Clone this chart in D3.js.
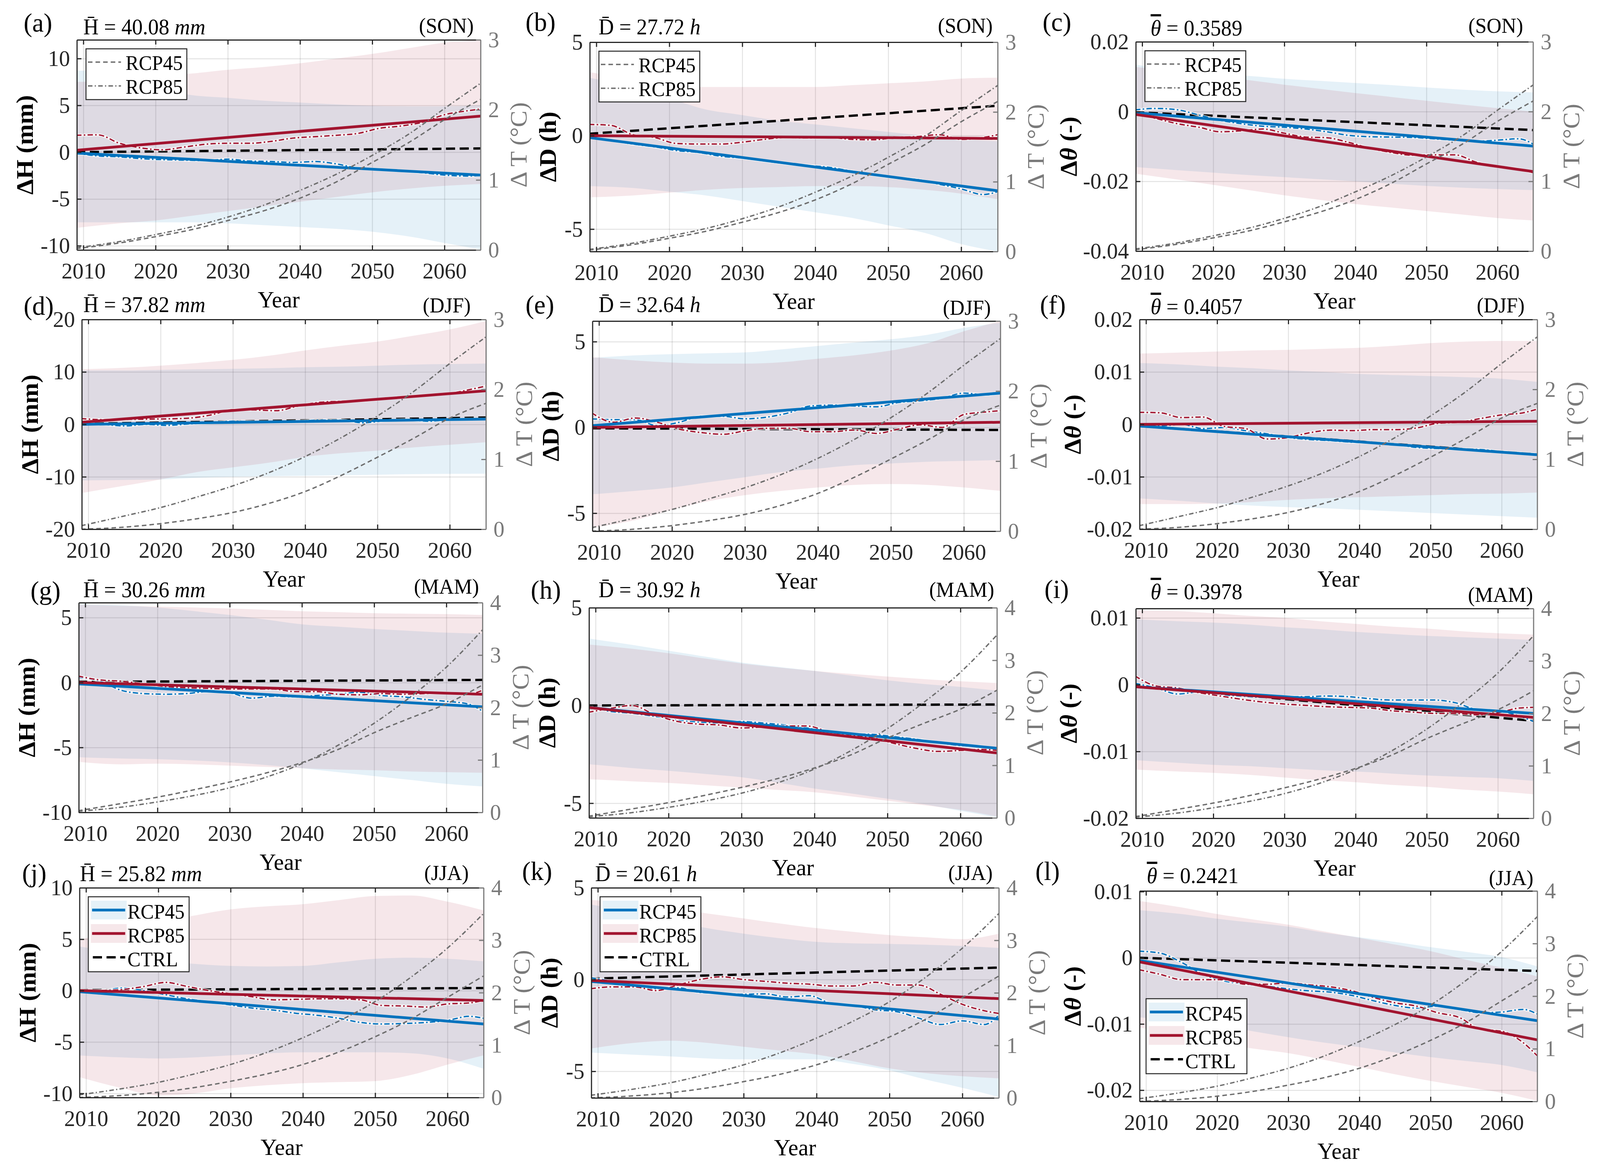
<!DOCTYPE html>
<html>
<head>
<meta charset="utf-8">
<script src="https://cdn.jsdelivr.net/npm/d3@7"></script>
<style>
  html, body { margin: 0; padding: 0; background: #fff; overflow: hidden; }
  #fig { display: block; width: 100vw; height: 100vh; }
  text { font-family: "Liberation Serif", "Times New Roman", serif; }
</style>
</head>
<body>
<svg id="fig" viewBox="0 0 4205 2993" preserveAspectRatio="none"></svg>
<script>
// ---- shared x grids ----
const YEARS = [2009, 2015, 2020, 2025, 2030, 2035, 2040, 2045, 2050, 2055, 2060, 2065];
const W_YEARS = [2009, 2012, 2015, 2018, 2021, 2024, 2027, 2030, 2033, 2036, 2039, 2042, 2045, 2048, 2051, 2054, 2057, 2060, 2063, 2065];
const TREND_YEARS = [2009, 2065];
const X_TICKS = [2010, 2020, 2030, 2040, 2050, 2060];

// ---- seasons, means, temperature change (right axis) ----
const SEASONS = ["SON", "DJF", "MAM", "JJA"];
const MEAN_H = ["40.08", "37.82", "30.26", "25.82"];
const MEAN_D = ["27.72", "32.64", "30.92", "20.61"];
const MEAN_THETA = ["0.3589", "0.4057", "0.3978", "0.2421"];
const TEMP_MAX = [3, 3, 4, 4];
const TEMP_TICKS = [[0, 1, 2, 3], [0, 1, 2, 3], [0, 1, 2, 3, 4], [0, 1, 2, 3, 4]];
const t45_SON = [0.02, 0.1, 0.19, 0.29, 0.42, 0.56, 0.74, 0.97, 1.25, 1.53, 1.86, 2.15];
const t85_SON = [0.03, 0.12, 0.22, 0.33, 0.47, 0.64, 0.85, 1.08, 1.35, 1.65, 2.02, 2.38];
const t45_DJF = [0.0, 0.03, 0.08, 0.15, 0.24, 0.37, 0.54, 0.77, 1.03, 1.3, 1.59, 1.8];
const t85_DJF = [0.05, 0.19, 0.31, 0.46, 0.62, 0.81, 1.04, 1.31, 1.62, 1.97, 2.37, 2.75];
const t45_MAM = [0.03, 0.17, 0.29, 0.43, 0.58, 0.75, 0.95, 1.2, 1.52, 1.8, 2.07, 2.43];
const t85_MAM = [0.02, 0.1, 0.2, 0.32, 0.47, 0.67, 0.93, 1.28, 1.7, 2.2, 2.77, 3.48];
const t45_JJA = [0.0, 0.04, 0.1, 0.19, 0.31, 0.45, 0.63, 0.87, 1.16, 1.5, 1.91, 2.32];
const t85_JJA = [0.05, 0.17, 0.29, 0.45, 0.63, 0.86, 1.14, 1.46, 1.83, 2.3, 2.85, 3.51];

// ---- (a) SON dH ----
const yDom_a = [-10.45, 12], yTicks_a = [-10, -5, 0, 5, 10];
const lo45_a = [-7.5, -7.5, -7.5, -7.5, -7.6, -7.8, -8.0, -8.2, -8.5, -9.0, -9.7, -10.4];
const hi45_a = [8.7, 8.7, 6.9, 6.1, 5.8, 5.5, 5.3, 5.1, 4.95, 4.9, 4.9, 5.0];
const lo85_a = [-8.1, -7.6, -7.3, -6.8, -6.3, -5.8, -5.3, -4.8, -4.3, -3.9, -3.6, -3.4];
const hi85_a = [7.5, 7.7, 8.1, 8.4, 8.8, 9.1, 9.5, 10.0, 10.5, 11.1, 11.7, 12.0];
const wig45_a = [-0.1, -0.4, -0.5, -0.7, -0.8, -0.85, -0.9, -0.75, -0.95, -1.0, -1.1, -1.0, -1.25, -1.7, -1.85, -2.0, -2.2, -2.45, -2.55, -2.5];
const wig85_a = [1.8, 1.85, 0.95, 0.45, 0.25, 0.55, 0.85, 0.95, 0.95, 1.15, 1.5, 1.65, 1.8, 2.0, 2.55, 2.8, 3.2, 4.0, 4.4, 4.6];
const trend45_a = [-0.1, -2.45], trend85_a = [0.2, 3.85], ctrl_a = [0.0, 0.4];

// ---- (b) SON dD ----
const yDom_b = [-6.2, 5], yTicks_b = [-5, 0, 5];
const lo45_b = [-2.7, -2.8, -3.0, -3.2, -3.5, -3.8, -4.1, -4.4, -4.8, -5.2, -5.8, -6.2];
const hi45_b = [3.1, 2.6, 2.0, 1.4, 1.1, 0.8, 0.6, 0.4, 0.2, 0.0, -0.2, -0.3];
const lo85_b = [-3.3, -3.2, -3.05, -2.9, -2.8, -2.75, -2.7, -2.7, -2.75, -2.9, -3.1, -3.4];
const hi85_b = [3.4, 3.0, 2.65, 2.6, 2.6, 2.6, 2.6, 2.7, 2.8, 2.9, 3.05, 3.1];
const wig45_b = [-0.1, -0.25, -0.45, -0.6, -0.8, -0.9, -1.1, -1.2, -1.35, -1.5, -1.6, -1.7, -1.9, -2.1, -2.25, -2.35, -2.6, -2.85, -3.15, -3.0];
const wig85_b = [0.6, 0.55, 0.05, -0.1, -0.42, -0.45, -0.45, -0.35, -0.2, -0.1, -0.12, -0.1, -0.2, -0.22, -0.1, -0.05, 0.05, -0.2, -0.1, 0.05];
const trend45_b = [-0.1, -2.95], trend85_b = [0.0, -0.15], ctrl_b = [0.1, 1.6];

// ---- (c) SON dTheta ----
const yDom_c = [-0.04, 0.02], yTicks_c = [-0.04, -0.02, 0, 0.02];
const lo45_c = [-0.0159, -0.0168, -0.0175, -0.0182, -0.0188, -0.0194, -0.02, -0.0207, -0.0213, -0.0218, -0.0222, -0.0225];
const hi45_c = [0.0135, 0.0115, 0.0105, 0.0102, 0.0094, 0.0088, 0.0082, 0.0076, 0.0069, 0.0063, 0.0058, 0.0055];
const lo85_c = [-0.0178, -0.0195, -0.021, -0.0225, -0.024, -0.0253, -0.0265, -0.0275, -0.0285, -0.0295, -0.0305, -0.0312];
const hi85_c = [0.0128, 0.0115, 0.0102, 0.009, 0.0077, 0.0065, 0.0053, 0.0042, 0.0031, 0.002, 0.001, 0.0];
const wig45_c = [0.0005, 0.0009, 0.0005, -0.001, -0.0025, -0.0035, -0.0042, -0.0045, -0.005, -0.0058, -0.0068, -0.0072, -0.0073, -0.0074, -0.0078, -0.0082, -0.0085, -0.0082, -0.0078, -0.0093];
const wig85_c = [-0.0005, -0.002, -0.0035, -0.0045, -0.0058, -0.0055, -0.005, -0.0062, -0.0073, -0.0075, -0.0088, -0.0105, -0.0117, -0.0125, -0.0124, -0.0124, -0.0145, -0.0158, -0.0165, -0.0175];
const trend45_c = [-0.0003, -0.0099], trend85_c = [-0.0008, -0.0172], ctrl_c = [-0.0002, -0.0053];

// ---- (d) DJF dH ----
const yDom_d = [-20, 20], yTicks_d = [-20, -10, 0, 10, 20];
const lo45_d = [-10.7, -10.6, -10.5, -10.2, -10.0, -9.9, -9.8, -9.7, -9.6, -9.5, -9.45, -9.4];
const hi45_d = [10.3, 10.3, 10.4, 10.5, 10.6, 10.7, 10.9, 11.0, 11.2, 11.4, 11.5, 11.6];
const lo85_d = [-13.1, -11.7, -10.5, -9.1, -8.2, -7.3, -6.2, -5.5, -5.0, -4.4, -3.9, -3.4];
const hi85_d = [10.5, 10.8, 11.2, 11.7, 12.3, 13.1, 14.1, 15.0, 15.8, 16.9, 18.1, 19.7];
const wig45_d = [0.1, 0.0, -0.3, 0.0, -0.2, 0.1, 0.3, 0.6, 0.5, 0.5, 0.6, 0.8, 0.8, 0.3, 0.7, 0.9, 0.6, 0.9, 1.0, 1.0];
const wig85_d = [1.1, 0.9, 0.95, 1.0, 1.05, 1.2, 1.8, 2.8, 2.75, 2.6, 3.5, 4.2, 4.4, 4.5, 4.9, 5.3, 5.6, 5.9, 6.7, 7.3];
const trend45_d = [0.0, 1.0], trend85_d = [0.4, 6.4], ctrl_d = [0.1, 1.3];

// ---- (e) DJF dD ----
const yDom_e = [-6.05, 6.2], yTicks_e = [-5, 0, 5];
const lo45_e = [-3.9, -3.7, -3.5, -3.2, -2.9, -2.6, -2.4, -2.2, -2.1, -2.0, -1.95, -1.9];
const hi45_e = [4.05, 4.2, 4.27, 4.32, 4.37, 4.55, 4.75, 4.95, 5.14, 5.4, 5.8, 6.1];
const lo85_e = [-5.85, -5.4, -4.8, -4.3, -3.95, -3.7, -3.5, -3.35, -3.3, -3.35, -3.5, -3.7];
const hi85_e = [4.1, 3.9, 3.78, 3.72, 3.72, 3.8, 4.0, 4.2, 4.48, 4.9, 5.6, 6.2];
const wig45_e = [0.5, 0.45, 0.45, 0.1, 0.3, 0.65, 0.65, 0.5, 0.6, 0.85, 1.25, 1.3, 1.25, 1.2, 1.45, 1.55, 1.7, 2.0, 1.9, 2.0];
const wig85_e = [0.85, 0.3, 0.55, 0.3, -0.1, -0.3, -0.4, -0.2, -0.05, -0.05, -0.25, -0.25, -0.15, -0.35, -0.1, 0.15, 0.0, 0.75, 0.9, 0.98];
const trend45_e = [0.1, 2.0], trend85_e = [0.0, 0.3], ctrl_e = [-0.05, -0.15];

// ---- (f) DJF dTheta ----
const yDom_f = [-0.02, 0.02], yTicks_f = [-0.02, -0.01, 0, 0.01, 0.02];
const lo45_f = [-0.0141, -0.0146, -0.0151, -0.0155, -0.0158, -0.016, -0.0163, -0.0166, -0.0169, -0.0172, -0.0175, -0.0178];
const hi45_f = [0.0117, 0.0114, 0.011, 0.0107, 0.0103, 0.01, 0.0096, 0.0094, 0.0092, 0.009, 0.0087, 0.0081];
const lo85_f = [-0.0152, -0.0152, -0.0151, -0.0148, -0.0144, -0.0141, -0.0139, -0.0137, -0.0135, -0.0133, -0.0132, -0.013];
const hi85_f = [0.0135, 0.0137, 0.0139, 0.0141, 0.0142, 0.0144, 0.0146, 0.015, 0.0155, 0.0158, 0.0159, 0.0159];
const wig45_f = [-0.0003, -0.0003, 0.0, -0.0008, -0.0006, -0.0012, -0.0018, -0.0025, -0.0029, -0.0031, -0.0034, -0.0035, -0.0038, -0.0044, -0.0046, -0.0047, -0.0048, -0.0052, -0.0055, -0.0057];
const wig85_f = [0.0023, 0.0022, 0.0013, 0.0014, -0.0004, -0.0008, -0.0028, -0.0025, -0.0016, -0.0011, -0.0012, -0.001, -0.001, -0.0007, 0.0002, 0.0004, 0.0011, 0.0018, 0.0022, 0.0029];
const trend45_f = [-0.0003, -0.0058], trend85_f = [0.0, 0.0006], ctrl_f = [-0.0003, -0.0057];

// ---- (g) MAM dH ----
const yDom_g = [-10, 6.15], yTicks_g = [-10, -5, 0, 5];
const lo45_g = [-5.75, -5.85, -5.9, -6.0, -6.15, -6.35, -6.6, -6.9, -7.2, -7.5, -7.8, -8.0];
const hi45_g = [6.06, 5.95, 5.78, 5.5, 5.2, 4.85, 4.48, 4.3, 4.12, 3.98, 3.84, 3.76];
const lo85_g = [-6.1, -6.3, -6.25, -6.3, -6.4, -6.5, -6.6, -6.7, -6.75, -6.85, -6.9, -6.95];
const hi85_g = [6.0, 5.9, 5.85, 5.78, 5.7, 5.6, 5.49, 5.42, 5.34, 5.3, 5.27, 5.2];
const wig45_g = [0.4, 0.1, -0.6, -0.85, -0.9, -0.85, -0.7, -0.8, -1.2, -1.05, -1.1, -1.0, -0.9, -0.75, -1.0, -1.1, -1.3, -1.45, -1.65, -2.2];
const wig85_g = [0.5, 0.2, 0.1, -0.1, -0.3, -0.4, -0.45, -0.5, -0.5, -0.5, -0.7, -0.7, -0.9, -0.95, -0.85, -0.9, -0.85, -0.8, -0.9, -0.6];
const trend45_g = [-0.1, -1.87], trend85_g = [0.0, -0.9], ctrl_g = [0.05, 0.2];

// ---- (h) MAM dD ----
const yDom_h = [-5.75, 5], yTicks_h = [-5, 0, 5];
const lo45_h = [-3.0, -3.2, -3.34, -3.5, -3.67, -3.95, -4.25, -4.5, -4.77, -5.05, -5.39, -5.73];
const hi45_h = [3.43, 3.1, 2.8, 2.5, 2.2, 1.98, 1.77, 1.53, 1.29, 1.1, 0.95, 0.76];
const lo85_h = [-3.77, -3.88, -3.96, -4.08, -4.2, -4.32, -4.44, -4.65, -4.87, -5.1, -5.34, -5.68];
const hi85_h = [3.12, 2.9, 2.67, 2.4, 2.15, 1.95, 1.77, 1.62, 1.48, 1.35, 1.24, 1.15];
const wig45_h = [-0.05, -0.3, -0.4, -0.55, -0.75, -0.85, -0.9, -0.82, -0.9, -1.0, -1.15, -1.38, -1.45, -1.48, -1.6, -1.73, -1.9, -2.05, -2.1, -2.24];
const wig85_h = [-0.35, -0.15, 0.0, -0.45, -0.8, -0.95, -1.0, -1.15, -1.1, -1.05, -1.05, -1.35, -1.5, -1.65, -1.95, -2.2, -2.35, -2.3, -2.25, -2.3];
const trend45_h = [-0.1, -2.19], trend85_h = [-0.1, -2.43], ctrl_h = [0.0, 0.05];

// ---- (i) MAM dTheta ----
const yDom_i = [-0.02, 0.0114], yTicks_i = [-0.02, -0.01, 0, 0.01];
const lo45_i = [-0.0113, -0.0117, -0.012, -0.0122, -0.0125, -0.0128, -0.013, -0.0133, -0.0136, -0.0138, -0.014, -0.0144];
const hi45_i = [0.0098, 0.0095, 0.0093, 0.009, 0.0086, 0.0083, 0.0079, 0.0076, 0.0073, 0.0071, 0.0069, 0.0067];
const lo85_i = [-0.0127, -0.013, -0.0132, -0.0135, -0.0139, -0.0143, -0.0146, -0.015, -0.0153, -0.0157, -0.016, -0.0164];
const hi85_i = [0.0112, 0.011, 0.0107, 0.0103, 0.01, 0.0095, 0.0091, 0.0087, 0.0084, 0.008, 0.0077, 0.0075];
const wig45_i = [0.0002, -0.0005, -0.0014, -0.0011, -0.0015, -0.0017, -0.0019, -0.0018, -0.0018, -0.0017, -0.0018, -0.0021, -0.0023, -0.0023, -0.0023, -0.0027, -0.0037, -0.0039, -0.0047, -0.0055];
const wig85_i = [0.0013, -0.0002, -0.0005, -0.0012, -0.0017, -0.0022, -0.0026, -0.0029, -0.0031, -0.0033, -0.0034, -0.0035, -0.0039, -0.0041, -0.0043, -0.0043, -0.0045, -0.0042, -0.0035, -0.0034];
const trend45_i = [-0.0003, -0.0043], trend85_i = [-0.0003, -0.0049], ctrl_i = [-0.0002, -0.0054];

// ---- (j) JJA dH ----
const yDom_j = [-10.4, 10], yTicks_j = [-10, -5, 0, 5, 10];
const lo45_j = [-6.3, -6.5, -6.6, -6.5, -6.3, -6.1, -6.0, -6.0, -6.0, -6.1, -6.6, -7.6];
const hi45_j = [4.3, 3.6, 2.9, 2.6, 2.4, 2.35, 2.4, 2.75, 3.1, 3.2, 3.1, 2.85];
const lo85_j = [-8.4, -9.5, -10.2, -10.0, -9.5, -9.2, -9.0, -8.9, -8.8, -8.2, -7.2, -6.3];
const hi85_j = [4.9, 6.0, 6.6, 7.3, 7.9, 8.2, 8.4, 8.8, 9.2, 9.25, 8.65, 7.8];
const wig45_j = [0.05, 0.0, 0.25, 0.0, -0.4, -0.8, -1.1, -1.4, -1.7, -1.9, -2.2, -2.4, -2.7, -3.1, -3.25, -3.2, -3.1, -2.9, -2.5, -2.7];
const wig85_j = [-0.1, 0.0, 0.1, 0.4, 0.8, 0.4, 0.0, -0.3, -0.6, -0.9, -0.85, -0.8, -0.8, -0.9, -1.45, -1.5, -1.6, -1.3, -1.2, -0.95];
const trend45_j = [-0.1, -3.25], trend85_j = [0.0, -0.96], ctrl_j = [0.05, 0.25];

// ---- (k) JJA dD ----
const yDom_k = [-6.45, 5], yTicks_k = [-5, 0, 5];
const lo45_k = [-3.98, -4.1, -4.19, -4.3, -4.35, -4.35, -4.35, -4.6, -4.95, -5.45, -5.9, -6.4];
const hi45_k = [4.1, 3.6, 3.2, 2.8, 2.5, 2.25, 2.05, 1.97, 1.94, 1.9, 1.83, 1.72];
const lo85_k = [-3.76, -3.45, -3.33, -3.45, -3.66, -3.87, -4.09, -4.45, -4.84, -5.1, -5.27, -5.38];
const hi85_k = [4.35, 4.1, 3.87, 3.6, 3.33, 3.05, 2.8, 2.6, 2.42, 2.3, 2.2, 2.5];
const wig45_k = [0.1, -0.1, -0.3, -0.5, -0.45, -0.7, -0.75, -0.8, -0.78, -0.95, -0.88, -1.3, -1.4, -1.65, -1.75, -2.1, -2.45, -2.25, -2.45, -1.95];
const wig85_k = [-0.5, -0.4, -0.4, -0.6, -0.3, 0.0, 0.15, 0.0, -0.1, -0.2, -0.25, -0.35, -0.35, -0.15, -0.3, -0.3, -0.8, -1.35, -1.7, -1.85];
const trend45_k = [-0.1, -2.15], trend85_k = [-0.05, -1.04], ctrl_k = [0.05, 0.65];

// ---- (l) JJA dTheta ----
const yDom_l = [-0.0217, 0.0101], yTicks_l = [-0.02, -0.01, 0, 0.01];
const lo45_l = [-0.009, -0.0096, -0.0102, -0.0111, -0.012, -0.0128, -0.0135, -0.0143, -0.015, -0.0156, -0.0162, -0.0173];
const hi45_l = [0.0072, 0.0066, 0.0059, 0.0053, 0.0047, 0.0038, 0.0031, 0.0024, 0.0016, 0.0009, 0.0001, -0.0013];
const lo85_l = [-0.0105, -0.0118, -0.0129, -0.0137, -0.0144, -0.0154, -0.0165, -0.0176, -0.0186, -0.0195, -0.0204, -0.0216];
const hi85_l = [0.0086, 0.0076, 0.0066, 0.0058, 0.005, 0.004, 0.003, 0.002, 0.001, -0.0003, -0.0015, -0.0028];
const wig45_l = [0.001, 0.0007, -0.0007, -0.0025, -0.0035, -0.004, -0.0043, -0.0047, -0.005, -0.0052, -0.0057, -0.0065, -0.0072, -0.0076, -0.0073, -0.0078, -0.0083, -0.0082, -0.0078, -0.0085];
const wig85_l = [-0.0018, -0.0025, -0.0033, -0.0033, -0.0033, -0.004, -0.004, -0.0038, -0.0041, -0.0044, -0.005, -0.006, -0.0068, -0.0073, -0.0083, -0.009, -0.0108, -0.0111, -0.0128, -0.0148];
const trend45_l = [-0.0004, -0.0095], trend85_l = [-0.0006, -0.0124], ctrl_l = [0.0, -0.002];

// ---- tables built from the arrays above ----
const TEMP45 = [t45_SON, t45_DJF, t45_MAM, t45_JJA];
const TEMP85 = [t85_SON, t85_DJF, t85_MAM, t85_JJA];
const PANELS = [
  {id: "a", yDom: yDom_a, yTicks: yTicks_a, lo45: lo45_a, hi45: hi45_a, lo85: lo85_a, hi85: hi85_a, w45: wig45_a, w85: wig85_a, tr45: trend45_a, tr85: trend85_a, ctrl: ctrl_a},
  {id: "b", yDom: yDom_b, yTicks: yTicks_b, lo45: lo45_b, hi45: hi45_b, lo85: lo85_b, hi85: hi85_b, w45: wig45_b, w85: wig85_b, tr45: trend45_b, tr85: trend85_b, ctrl: ctrl_b},
  {id: "c", yDom: yDom_c, yTicks: yTicks_c, lo45: lo45_c, hi45: hi45_c, lo85: lo85_c, hi85: hi85_c, w45: wig45_c, w85: wig85_c, tr45: trend45_c, tr85: trend85_c, ctrl: ctrl_c},
  {id: "d", yDom: yDom_d, yTicks: yTicks_d, lo45: lo45_d, hi45: hi45_d, lo85: lo85_d, hi85: hi85_d, w45: wig45_d, w85: wig85_d, tr45: trend45_d, tr85: trend85_d, ctrl: ctrl_d},
  {id: "e", yDom: yDom_e, yTicks: yTicks_e, lo45: lo45_e, hi45: hi45_e, lo85: lo85_e, hi85: hi85_e, w45: wig45_e, w85: wig85_e, tr45: trend45_e, tr85: trend85_e, ctrl: ctrl_e},
  {id: "f", yDom: yDom_f, yTicks: yTicks_f, lo45: lo45_f, hi45: hi45_f, lo85: lo85_f, hi85: hi85_f, w45: wig45_f, w85: wig85_f, tr45: trend45_f, tr85: trend85_f, ctrl: ctrl_f},
  {id: "g", yDom: yDom_g, yTicks: yTicks_g, lo45: lo45_g, hi45: hi45_g, lo85: lo85_g, hi85: hi85_g, w45: wig45_g, w85: wig85_g, tr45: trend45_g, tr85: trend85_g, ctrl: ctrl_g},
  {id: "h", yDom: yDom_h, yTicks: yTicks_h, lo45: lo45_h, hi45: hi45_h, lo85: lo85_h, hi85: hi85_h, w45: wig45_h, w85: wig85_h, tr45: trend45_h, tr85: trend85_h, ctrl: ctrl_h},
  {id: "i", yDom: yDom_i, yTicks: yTicks_i, lo45: lo45_i, hi45: hi45_i, lo85: lo85_i, hi85: hi85_i, w45: wig45_i, w85: wig85_i, tr45: trend45_i, tr85: trend85_i, ctrl: ctrl_i},
  {id: "j", yDom: yDom_j, yTicks: yTicks_j, lo45: lo45_j, hi45: hi45_j, lo85: lo85_j, hi85: hi85_j, w45: wig45_j, w85: wig85_j, tr45: trend45_j, tr85: trend85_j, ctrl: ctrl_j},
  {id: "k", yDom: yDom_k, yTicks: yTicks_k, lo45: lo45_k, hi45: hi45_k, lo85: lo85_k, hi85: hi85_k, w45: wig45_k, w85: wig85_k, tr45: trend45_k, tr85: trend85_k, ctrl: ctrl_k},
  {id: "l", yDom: yDom_l, yTicks: yTicks_l, lo45: lo45_l, hi45: hi45_l, lo85: lo85_l, hi85: hi85_l, w45: wig45_l, w85: wig85_l, tr45: trend45_l, tr85: trend85_l, ctrl: ctrl_l}
];

// ---- layout (pixel positions of each axes box and its annotations) ----
const LAYOUT = [
  {box: [202, 102, 1263, 640],    letter: [62, 81],     title: [219, 88],    season: [1245, 84]},
  {box: [1550, 108, 2622, 644],   letter: [1381, 79],   title: [1573, 88],   season: [2609, 84]},
  {box: [2985, 107, 4029, 643],   letter: [2740, 79],   title: [3024, 91],   season: [4003, 84]},
  {box: [215, 818, 1277, 1355],   letter: [62, 806],    title: [219, 799],   season: [1237, 800]},
  {box: [1557, 822, 2629, 1360],  letter: [1381, 803],  title: [1573, 799],  season: [2604, 806]},
  {box: [2995, 818, 4040, 1355],  letter: [2733, 803],  title: [3024, 804],  season: [4007, 800]},
  {box: [207, 1543, 1268, 2080],  letter: [80, 1535],   title: [219, 1529],  season: [1259, 1520]},
  {box: [1548, 1556, 2620, 2094], letter: [1395, 1533], title: [1573, 1529], season: [2613, 1528]},
  {box: [2985, 1558, 4030, 2095], letter: [2745, 1531], title: [3024, 1534], season: [4029, 1541]},
  {box: [209, 2273, 1271, 2810],  letter: [58, 2258],   title: [210, 2256],  season: [1232, 2253]},
  {box: [1554, 2273, 2625, 2811], letter: [1372, 2253], title: [1564, 2256], season: [2609, 2253]},
  {box: [2995, 2281, 4040, 2820], letter: [2721, 2253], title: [3014, 2261], season: [4030, 2266]}
];
const LEFT_LABEL_OFF = [137, 110, 177];

const X_DOMAIN = [2009.1, 2065];
const C45 = "rgb(0,114,189)", C85 = "rgb(162,20,47)";
const AX = "#262626", AXR = "#7a7a7a", CTEMP = "#6e6e6e";
const FS_TICK = 58, FS_LABEL = 64;

const svg = d3.select("#fig");
svg.append("rect").attr("width", 4205).attr("height", 2993).attr("fill", "#fff");

function styleAxis(sel, color, size) {
  sel.attr("font-family", null).attr("font-size", size);
  sel.select(".domain").attr("stroke", color).attr("stroke-width", 3);
  sel.selectAll(".tick line").attr("stroke", color).attr("stroke-width", 3);
  sel.selectAll(".tick text").attr("fill", color);
}

PANELS.forEach((p, i) => {
  const row = Math.floor(i / 3), col = i % 3;
  const L = LAYOUT[i];
  const [x0, y0, x1, y1] = L.box;
  const x = d3.scaleLinear().domain(X_DOMAIN).range([x0, x1]);
  const y = d3.scaleLinear().domain(p.yDom).range([y1, y0]);
  const yt = d3.scaleLinear().domain([0, TEMP_MAX[row]]).range([y1, y0]);
  const g = svg.append("g");

  g.append("clipPath").attr("id", "clip-" + p.id)
    .append("rect").attr("x", x0).attr("y", y0).attr("width", x1 - x0).attr("height", y1 - y0);

  // grid
  g.append("g").attr("transform", `translate(0,${y1})`)
    .call(d3.axisBottom(x).tickValues(X_TICKS).tickSize(-(y1 - y0)).tickFormat(""))
    .call(s => {
      s.select(".domain").remove();
      s.selectAll("line").attr("stroke", AX).attr("stroke-opacity", 0.13).attr("stroke-width", 2.5);
    });
  g.append("g").attr("transform", `translate(${x0},0)`)
    .call(d3.axisLeft(y).tickValues(p.yTicks).tickSize(-(x1 - x0)).tickFormat(""))
    .call(s => {
      s.select(".domain").remove();
      s.selectAll("line").attr("stroke", AX).attr("stroke-opacity", 0.13).attr("stroke-width", 2.5);
    });

  const plot = g.append("g").attr("clip-path", `url(#clip-${p.id})`);

  // uncertainty bands
  const band = (lo, hi) => d3.area().curve(d3.curveMonotoneX)
    .x((d, k) => x(YEARS[k])).y0((d, k) => y(lo[k])).y1((d, k) => y(hi[k]));
  plot.append("path").datum(p.lo45).attr("d", band(p.lo45, p.hi45))
    .attr("fill", C45).attr("fill-opacity", 0.1);
  plot.append("path").datum(p.lo85).attr("d", band(p.lo85, p.hi85))
    .attr("fill", C85).attr("fill-opacity", 0.1);

  // CTRL
  const trendLine = d3.line().x((d, k) => x(TREND_YEARS[k])).y(d => y(d));
  plot.append("path").datum(p.ctrl).attr("d", trendLine)
    .attr("fill", "none").attr("stroke", "#000").attr("stroke-width", 6).attr("stroke-dasharray", "24 12");

  // smoothed series (dash-dot)
  const wig = d3.line().curve(d3.curveMonotoneX).x((d, k) => x(W_YEARS[k])).y(d => y(d));
  [[p.w45, C45], [p.w85, C85]].forEach(([s, c]) => {
    plot.append("path").datum(s).attr("d", wig)
      .attr("fill", "none").attr("stroke", "#fff").attr("stroke-opacity", 0.75).attr("stroke-width", 7);
    plot.append("path").datum(s).attr("d", wig)
      .attr("fill", "none").attr("stroke", c).attr("stroke-width", 3.5).attr("stroke-dasharray", "14 6 4 6");
  });

  // linear trends
  plot.append("path").datum(p.tr45).attr("d", trendLine)
    .attr("fill", "none").attr("stroke", C45).attr("stroke-width", 7);
  plot.append("path").datum(p.tr85).attr("d", trendLine)
    .attr("fill", "none").attr("stroke", C85).attr("stroke-width", 7);

  // temperature change (right axis)
  const tLine = d3.line().curve(d3.curveMonotoneX).x((d, k) => x(YEARS[k])).y(d => yt(d));
  plot.append("path").datum(TEMP45[row]).attr("d", tLine)
    .attr("fill", "none").attr("stroke", CTEMP).attr("stroke-width", 3.5).attr("stroke-dasharray", "12 8");
  plot.append("path").datum(TEMP85[row]).attr("d", tLine)
    .attr("fill", "none").attr("stroke", CTEMP).attr("stroke-width", 3.5).attr("stroke-dasharray", "12 6 3 6");

  // axes
  const bottom = g.append("g").attr("transform", `translate(0,${y1})`)
    .call(d3.axisBottom(x).tickValues(X_TICKS).tickFormat(d3.format("d"))
      .tickSizeInner(-12).tickSizeOuter(0).tickPadding(32));
  styleAxis(bottom, AX, FS_TICK);
  const top = g.append("g").attr("transform", `translate(0,${y0})`)
    .call(d3.axisTop(x).tickValues(X_TICKS).tickFormat("").tickSizeInner(-12).tickSizeOuter(0));
  styleAxis(top, AX, FS_TICK);
  const left = g.append("g").attr("transform", `translate(${x0},0)`)
    .call(d3.axisLeft(y).tickValues(p.yTicks).tickFormat(d => String(d))
      .tickSizeInner(-12).tickSizeOuter(0).tickPadding(18));
  styleAxis(left, AX, FS_TICK);
  const right = g.append("g").attr("transform", `translate(${x1},0)`)
    .call(d3.axisRight(yt).tickValues(TEMP_TICKS[row]).tickFormat(d3.format("d"))
      .tickSizeInner(-12).tickSizeOuter(0).tickPadding(20));
  styleAxis(right, AXR, FS_TICK);

  // axis labels
  const ym = (y0 + y1) / 2;
  const ll = g.append("text")
    .attr("transform", `translate(${x0 - LEFT_LABEL_OFF[col]},${ym}) rotate(-90)`)
    .attr("text-anchor", "middle").attr("dominant-baseline", "central")
    .attr("font-size", FS_LABEL).attr("font-weight", "bold").attr("fill", "#000");
  if (col === 0) ll.text("ΔH (mm)");
  else if (col === 1) ll.text("ΔD (h)");
  else {
    ll.append("tspan").text("Δ");
    ll.append("tspan").attr("font-style", "italic").text("θ");
    ll.append("tspan").text(" (-)");
  }
  g.append("text")
    .attr("transform", `translate(${x1 + 100},${ym}) rotate(-90)`)
    .attr("text-anchor", "middle").attr("dominant-baseline", "central")
    .attr("font-size", FS_LABEL).attr("fill", AXR).text("Δ T (°C)");
  g.append("text").attr("x", (x0 + x1) / 2).attr("y", y1 + 147)
    .attr("text-anchor", "middle").attr("font-size", 60).attr("fill", "#000").text("Year");

  // annotations
  g.append("text").attr("x", L.letter[0]).attr("y", L.letter[1])
    .attr("font-size", 68).attr("fill", "#000").text(`(${p.id})`);
  const tt = g.append("text").attr("x", L.title[0]).attr("y", L.title[1])
    .attr("font-size", 56).attr("fill", "#000");
  if (col === 0) {
    tt.append("tspan").text(`H\u0304 = ${MEAN_H[row]} `);
    tt.append("tspan").attr("font-style", "italic").text("mm");
  } else if (col === 1) {
    tt.append("tspan").text(`D\u0304 = ${MEAN_D[row]} `);
    tt.append("tspan").attr("font-style", "italic").text("h");
  } else {
    tt.append("tspan").attr("font-style", "italic")
      .style("text-decoration", "overline").text("θ");
    tt.append("tspan").text(` = ${MEAN_THETA[row]}`);
  }
  g.append("text").attr("x", L.season[0]).attr("y", L.season[1])
    .attr("text-anchor", "end").attr("font-size", 54).attr("fill", "#000").text(`(${SEASONS[row]})`);

  // legends
  if (row === 0) {
    const lg = g.append("g").attr("transform", `translate(${x0 + 24},${y0 + 23})`);
    lg.append("rect").attr("width", 265).attr("height", 130)
      .attr("fill", "#fff").attr("stroke", AX).attr("stroke-width", 2.5);
    lg.append("line").attr("x1", 5).attr("x2", 92).attr("y1", 34).attr("y2", 34)
      .attr("stroke", CTEMP).attr("stroke-width", 3.5).attr("stroke-dasharray", "12 8");
    lg.append("line").attr("x1", 5).attr("x2", 92).attr("y1", 95).attr("y2", 95)
      .attr("stroke", CTEMP).attr("stroke-width", 3.5).attr("stroke-dasharray", "12 6 3 6");
    lg.append("text").attr("x", 104).attr("y", 54).attr("font-size", 52).text("RCP45");
    lg.append("text").attr("x", 104).attr("y", 115).attr("font-size", 52).text("RCP85");
  }
  if (row === 3) {
    const off = col === 2 ? [17, 276] : [23, 23];
    const lg = g.append("g").attr("transform", `translate(${x0 + off[0]},${y0 + off[1]})`);
    lg.append("rect").attr("width", 265).attr("height", 192)
      .attr("fill", "#fff").attr("stroke", AX).attr("stroke-width", 2.5);
    lg.append("rect").attr("x", 7).attr("y", 10).attr("width", 94).attr("height", 48)
      .attr("fill", C45).attr("fill-opacity", 0.1);
    lg.append("line").attr("x1", 10).attr("x2", 97).attr("y1", 34).attr("y2", 34)
      .attr("stroke", C45).attr("stroke-width", 7);
    lg.append("rect").attr("x", 7).attr("y", 70).attr("width", 94).attr("height", 48)
      .attr("fill", C85).attr("fill-opacity", 0.1);
    lg.append("line").attr("x1", 10).attr("x2", 97).attr("y1", 94).attr("y2", 94)
      .attr("stroke", C85).attr("stroke-width", 7);
    lg.append("line").attr("x1", 12).attr("x2", 97).attr("y1", 155).attr("y2", 155)
      .attr("stroke", "#000").attr("stroke-width", 6).attr("stroke-dasharray", "24 12");
    lg.append("text").attr("x", 103).attr("y", 56).attr("font-size", 52).text("RCP45");
    lg.append("text").attr("x", 103).attr("y", 117).attr("font-size", 52).text("RCP85");
    lg.append("text").attr("x", 103).attr("y", 178).attr("font-size", 52).text("CTRL");
  }
});
</script>
</body>
</html>
